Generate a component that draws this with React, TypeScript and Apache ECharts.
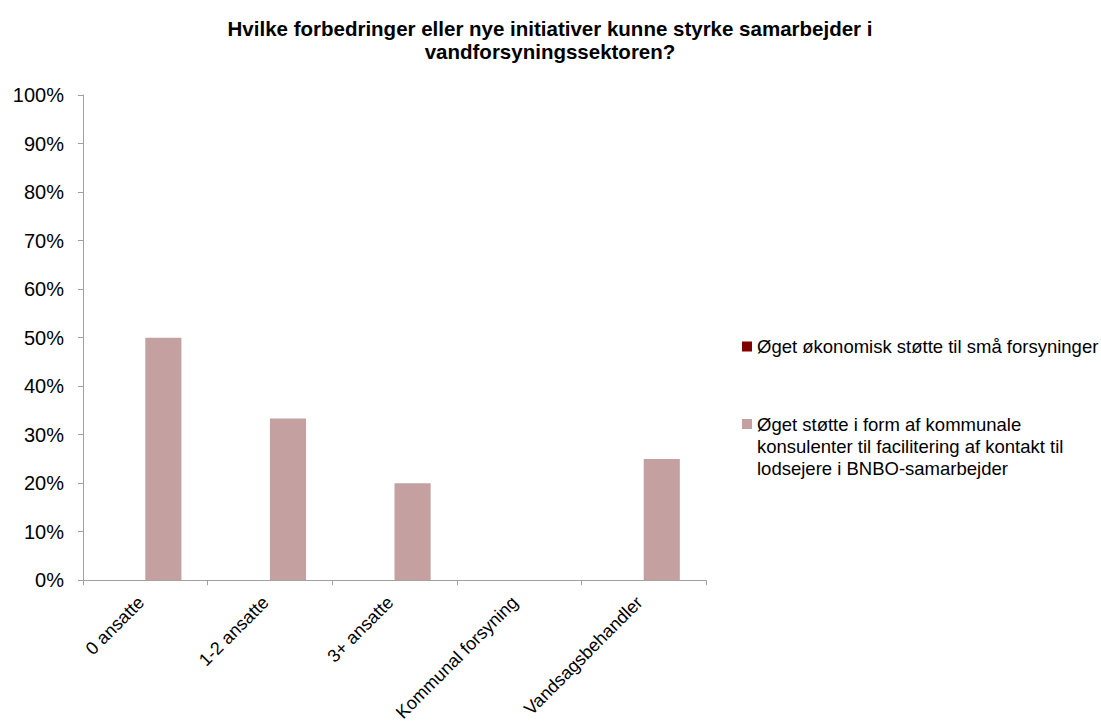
import React, { useEffect, useRef } from "react";
import * as echarts from "echarts";

const titleText = "Hvilke forbedringer eller nye initiativer kunne styrke samarbejder i\nvandforsyningssektoren?";
const categories = ["0 ansatte", "1-2 ansatte", "3+ ansatte", "Kommunal forsyning", "Vandsagsbehandler"];
const seriesNames = [
  "Øget økonomisk støtte til små forsyninger",
  "Øget støtte i form af kommunale konsulenter til facilitering af kontakt til lodsejere i BNBO-samarbejder",
];
const legendLabel2 = "\n\nØget støtte i form af kommunale\nkonsulenter til facilitering af kontakt til\nlodsejere i BNBO-samarbejder";
const economicSupport = [0, 0, 0, 0, 0];
const consultantSupport = [0.5, 0.3333, 0.2, 0, 0.25];
const yTicks = [0, 0.1, 0.2, 0.3, 0.4, 0.5, 0.6, 0.7, 0.8, 0.9, 1];

const FONT = "Arial, 'Liberation Sans', sans-serif";

export default function App() {
  const ref = useRef<HTMLDivElement>(null);
  useEffect(() => {
    if (!ref.current) return;
    const chart = echarts.init(ref.current, null, { renderer: "svg" });
    chart.setOption({
      animation: false,
      backgroundColor: "#ffffff",
      textStyle: { fontFamily: FONT },
      title: {
        text: titleText,
        left: 545,
        textAlign: "center",
        top: 12,
        textStyle: { fontSize: 20.5, fontWeight: "bold", color: "#000", lineHeight: 23, fontFamily: FONT },
      },
      legend: [
        {
          data: [seriesNames[0]],
          left: 737,
          top: 332,
          orient: "vertical",
          itemWidth: 10,
          itemHeight: 10,
          icon: "rect",
          selectedMode: false,
          textStyle: { fontSize: 18.5, color: "#000", fontFamily: FONT },
        },
        {
          data: [seriesNames[1]],
          left: 737,
          top: 364,
          orient: "vertical",
          itemWidth: 10,
          itemHeight: 10,
          icon: "rect",
          selectedMode: false,
          formatter: () => legendLabel2,
          textStyle: { fontSize: 18.5, color: "#000", lineHeight: 22, fontFamily: FONT },
        },
      ],
      grid: { left: 83, right: 395, top: 95, bottom: 142, containLabel: false },
      xAxis: {
        type: "category",
        data: categories,
        axisLine: { show: true, lineStyle: { color: "#a0a0a0", width: 1 } },
        axisTick: { show: true, length: 5, lineStyle: { color: "#a0a0a0" } },
        axisLabel: {
          rotate: 45,
          fontSize: 18,
          color: "#000",
          margin: 15,
          interval: 0,
          padding: [0, 6, 0, 0],
          fontFamily: FONT,
        },
        splitLine: { show: false },
      },
      yAxis: {
        type: "value",
        min: 0,
        max: 1,
        interval: 0.1,
        axisLine: { show: true, lineStyle: { color: "#a0a0a0", width: 1 } },
        axisTick: { show: true, length: 5, lineStyle: { color: "#a0a0a0" } },
        axisLabel: {
          fontSize: 20,
          color: "#000",
          margin: 19,
          fontFamily: FONT,
          formatter: (v: number) => {
            const hit = yTicks.find((t) => Math.abs(t - v) < 1e-9);
            return Math.round((hit ?? v) * 100) + "%";
          },
        },
        splitLine: { show: false },
      },
      series: [
        {
          name: seriesNames[0],
          type: "bar",
          data: economicSupport,
          itemStyle: { color: "#800000" },
          barGap: "0%",
          barCategoryGap: "42%",
        },
        {
          name: seriesNames[1],
          type: "bar",
          data: consultantSupport,
          itemStyle: { color: "#c4a0a0" },
          barGap: "0%",
          barCategoryGap: "42%",
        },
      ],
    });
    return () => chart.dispose();
  }, []);
  return (
    <div
      ref={ref}
      style={{ position: "fixed", left: 0, top: 0, width: 1101, height: 724, background: "#fff" }}
    />
  );
}
